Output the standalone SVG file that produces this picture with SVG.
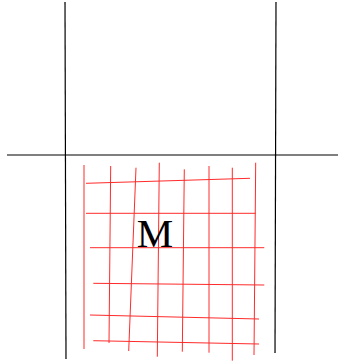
<svg xmlns="http://www.w3.org/2000/svg" width="338" height="361" viewBox="0 0 338 361">
<style>
.k{stroke:#000;stroke-width:1.2;fill:none}
.r{stroke:#ff2a2a;stroke-width:1;fill:none}
.t{font-family:"Liberation Serif",serif;font-size:41px;fill:#000}
</style>
<rect width="338" height="361" fill="#fff"/>
<g id="frame">
<line class="k" x1="65" y1="2" x2="66" y2="359"/>
<line class="k" x1="276" y1="2" x2="275" y2="353"/>
<line class="k" x1="7" y1="155" x2="338" y2="155"/>
</g>
<g id="grid">
<line class="r" x1="84" y1="165" x2="84" y2="349"/>
<line class="r" x1="110.7" y1="166" x2="109" y2="343"/>
<line class="r" x1="136" y1="167.7" x2="128.7" y2="351"/>
<line class="r" x1="159.3" y1="162.7" x2="157.3" y2="356.7"/>
<line class="r" x1="184.3" y1="169.3" x2="182.3" y2="351.7"/>
<line class="r" x1="209" y1="166" x2="209" y2="352.7"/>
<line class="r" x1="232.3" y1="167.7" x2="232.3" y2="360.7"/>
<line class="r" x1="255.7" y1="162.7" x2="254" y2="355"/>
<line class="r" x1="86" y1="183.3" x2="250" y2="178.3"/>
<line class="r" x1="86" y1="213.3" x2="255.7" y2="213.3"/>
<line class="r" x1="90" y1="247.7" x2="264.3" y2="247.7"/>
<line class="r" x1="93.3" y1="283.3" x2="264.3" y2="285"/>
<line class="r" x1="90" y1="315" x2="259" y2="319"/>
<line class="r" x1="93.3" y1="340.7" x2="259" y2="344"/>
</g>
<g id="label">
<text class="t" x="155" y="247" text-anchor="middle">M</text>
</g>
</svg>
